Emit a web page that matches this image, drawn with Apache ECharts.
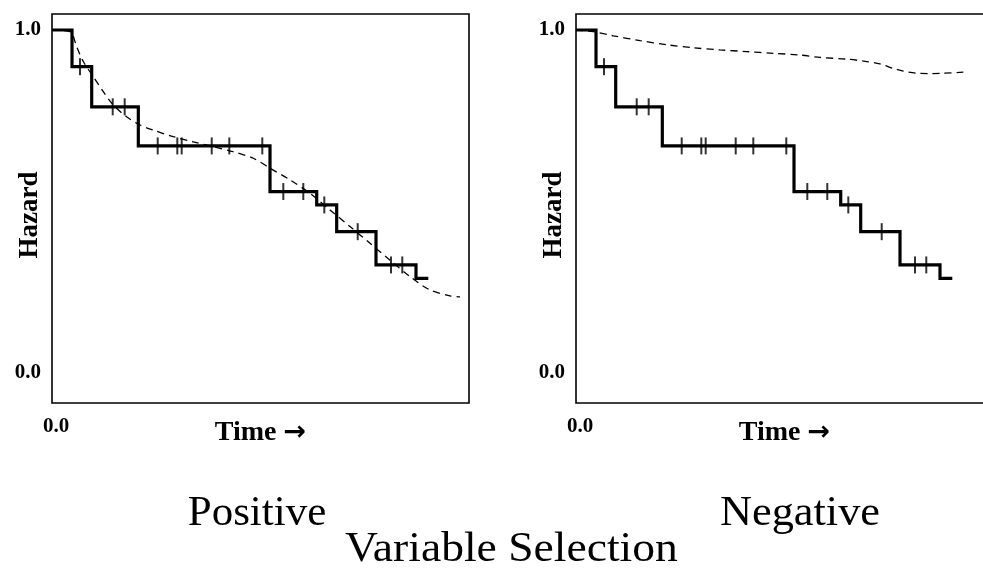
<!DOCTYPE html>
<html>
<head>
<meta charset="utf-8">
<script src="https://cdn.jsdelivr.net/npm/echarts@6/dist/echarts.min.js"></script>
<style>
  html, body { margin: 0; padding: 0; background: #fff; }
  #chart { width: 983px; height: 569px; }
</style>
</head>
<body>
<div id="chart"></div>
<script>
// Kaplan–Meier step estimate (same observed curve in both panels)
const stepTimes  = [0, 0.48, 0.952, 2.07, 5.228, 6.348, 6.827, 7.77, 8.729, 9.024];
const stepValues = [1.0, 0.893, 0.776, 0.662, 0.529, 0.490, 0.412, 0.315, 0.276, 0.276];

// censored observations (tick marks on the step curve)
const censorTimes = [0.671, 1.456, 1.743, 2.535, 3.005, 3.11, 3.83, 4.252,
                     5.043, 5.547, 6.026, 6.53, 7.331, 8.129, 8.40];

// fitted model curve, positive selection
const posFitTimes  = [0, 0.432, 0.592, 0.751, 0.99, 1.23, 1.47, 1.791, 2.11, 2.429, 2.909, 3.388,
                      3.868, 4.348, 4.827, 5.228, 5.707, 6.187, 6.667, 7.146, 7.626, 8.106,
                      8.585, 9.065, 9.544, 9.784];
const posFitValues = [1.0, 0.995, 0.951, 0.908, 0.864, 0.820, 0.781, 0.747, 0.723, 0.708, 0.689, 0.674,
                      0.660, 0.645, 0.626, 0.597, 0.563, 0.524, 0.475, 0.427, 0.378, 0.329,
                      0.281, 0.242, 0.225, 0.222];

// fitted model curve, negative selection
const negFitTimes  = [0, 0.415, 0.894, 1.535, 2.175, 2.813, 3.453, 4.094, 4.731, 5.372, 5.851,
                      6.492, 6.971, 7.29, 7.609, 7.849, 8.17, 8.489, 8.808, 9.288];
const negFitValues = [1.0, 0.995, 0.983, 0.969, 0.957, 0.948, 0.942, 0.937, 0.932, 0.927, 0.920,
                      0.915, 0.908, 0.901, 0.888, 0.880, 0.874, 0.873, 0.874, 0.877];

const yTickValues = [0, 1];
const xTickValues = [0];
const panelTitles = ['Positive', 'Negative'];
const figureTitle = 'Variable Selection';
const yName = 'Hazard';

function pairs(xs, ys) { return xs.map((x, i) => [x, ys[i]]); }
function levelAt(t) {
  let v = stepValues[0];
  for (let i = 0; i < stepTimes.length; i++) { if (stepTimes[i] <= t) v = stepValues[i]; }
  return v;
}

const serif = 'Liberation Serif, DejaVu Serif, serif';
const grids = [
  { left: 52, top: 14, width: 417, height: 389 },
  { left: 576, top: 14, width: 417, height: 389 }
];

const xAxes = grids.map((g, i) => ({
  gridIndex: i, type: 'value', min: 0, max: 10,
  axisLine: { show: false }, axisTick: { show: false }, splitLine: { show: false },
  axisLabel: {
    customValues: xTickValues, formatter: v => v.toFixed(1),
    fontFamily: serif, fontWeight: 'bold', fontSize: 21, color: '#000',
    margin: 13, padding: [0, 0, 0, 8]
  },
  name: 'Time {arr|\u2192}', nameLocation: 'middle', nameGap: 16, nameMoveOverlap: false,
  nameTextStyle: {
    fontFamily: serif, fontWeight: 'bold', fontSize: 28, color: '#000',
    rich: { arr: { fontFamily: 'DejaVu Sans', fontWeight: 'bold', fontSize: 27, color: '#000' } }
  }
}));

const yAxes = grids.map((g, i) => ({
  gridIndex: i, type: 'value', min: -0.0875, max: 1.0466,
  axisLine: { show: false }, axisTick: { show: false }, splitLine: { show: false },
  axisLabel: {
    customValues: yTickValues, formatter: v => v.toFixed(1),
    fontFamily: serif, fontWeight: 'bold', fontSize: 21, color: '#000', margin: 11
  },
  name: yName, nameLocation: 'middle', nameGap: 8, nameMoveOverlap: false,
  nameTextStyle: { fontFamily: serif, fontWeight: 'bold', fontSize: 27, color: '#000', padding: [0, 13, 0, 0] }
}));

const series = [];
[posFitTimes, negFitTimes].forEach((ft, i) => {
  const fv = i === 0 ? posFitValues : negFitValues;
  series.push({
    type: 'line', xAxisIndex: i, yAxisIndex: i, data: pairs(ft, fv),
    smooth: 0.3, showSymbol: false, silent: true,
    lineStyle: { color: '#000', width: 1.3, type: [7, 5] }, z: 2
  });
  series.push({
    type: 'line', xAxisIndex: i, yAxisIndex: i, data: pairs(stepTimes, stepValues),
    step: 'end', showSymbol: false, silent: true,
    lineStyle: { color: '#000', width: 3.2, join: 'miter' }, z: 3
  });
  series.push({
    type: 'scatter', xAxisIndex: i, yAxisIndex: i,
    data: censorTimes.map(t => [t, levelAt(t)]),
    symbol: 'rect', symbolSize: [2, 17], silent: true,
    itemStyle: { color: '#000' }, z: 4
  });
});

const chart = echarts.init(document.getElementById('chart'), null, { renderer: 'canvas' });
chart.setOption({
  animation: false,
  backgroundColor: '#fff',
  grid: grids.map(g => Object.assign({
    show: true, borderColor: '#000', borderWidth: 1.6, backgroundColor: 'transparent',
    containLabel: false, outerBoundsMode: 'none'
  }, g)),
  xAxis: xAxes,
  yAxis: yAxes,
  series: series,
  graphic: [
    { type: 'text', x: 257, y: 514, style: { text: panelTitles[0], fontFamily: serif, fontSize: 43, fill: '#000', align: 'center', verticalAlign: 'middle' } },
    { type: 'text', x: 800, y: 514, scaleX: 1.03, style: { text: panelTitles[1], fontFamily: serif, fontSize: 43, fill: '#000', align: 'center', verticalAlign: 'middle' } },
    { type: 'text', x: 345, y: 550, scaleX: 1.06, style: { text: figureTitle, fontFamily: serif, fontSize: 43, fill: '#000', align: 'left', verticalAlign: 'middle' } }
  ]
});
</script>
</body>
</html>
